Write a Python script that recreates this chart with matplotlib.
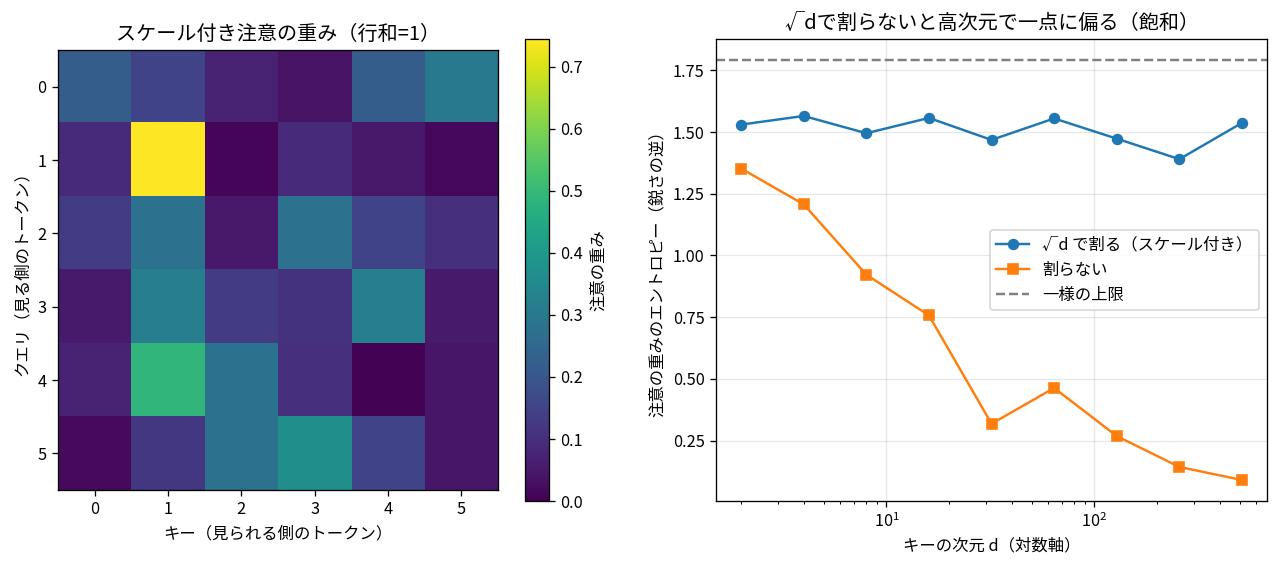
import numpy as np
import matplotlib.pyplot as plt

plt.rcParams['font.family'] = ['Noto Sans CJK JP', 'DejaVu Sans']

# attention weights (rows = queries, each row sums to ~1)
row0 = [0.22, 0.15, 0.075, 0.04, 0.22, 0.30]
row1 = [0.09, 0.745, 0.01, 0.09, 0.05, 0.015]
row2 = [0.13, 0.28, 0.05, 0.28, 0.15, 0.10]
row3 = [0.055, 0.32, 0.13, 0.11, 0.32, 0.055]
row4 = [0.07, 0.49, 0.28, 0.10, 0.005, 0.045]
row5 = [0.02, 0.12, 0.28, 0.37, 0.15, 0.045]
weights = np.array([row0, row1, row2, row3, row4, row5])

# entropy vs key dimension
dims = [2, 4, 8, 16, 32, 64, 128, 256, 512]
ent_scaled = [1.53, 1.565, 1.495, 1.557, 1.468, 1.555, 1.473, 1.39, 1.537]
ent_unscaled = [1.352, 1.207, 0.922, 0.757, 0.318, 0.463, 0.268, 0.143, 0.09]
upper = np.log(6)

dpi = 117.5
fig = plt.figure(figsize=(1278 / dpi, 566 / dpi), dpi=dpi)

# left: heatmap
ax1 = fig.add_axes([0.0454, 0.1148, 0.3443, 0.8163])
im = ax1.imshow(weights, cmap='viridis', vmin=0)
ax1.set_xticks(range(6))
ax1.set_yticks(range(6))
ax1.set_title('スケール付き注意の重み（行和=1）', fontsize=12.3)
ax1.set_xlabel('キー（見られる側のトークン）')
ax1.set_ylabel('クエリ（見る側のトークン）')
cax = fig.add_axes([0.4108, 0.1148, 0.0188, 0.8163])
fig.colorbar(im, cax=cax, label='注意の重み')

# right: entropy line plot
ax2 = fig.add_axes([0.5603, 0.1148, 0.4311, 0.8163])
ax2.plot(dims, ent_scaled, marker='o', color='#1f77b4', label='√d で割る（スケール付き）')
ax2.plot(dims, ent_unscaled, marker='s', color='#ff7f0e', label='割らない')
ax2.axhline(upper, color='gray', linestyle='--', label='一様の上限')
ax2.set_xscale('log')
ax2.set_title('√dで割らないと高次元で一点に偏る（飽和）', fontsize=12.3)
ax2.set_xlabel('キーの次元 d（対数軸）')
ax2.set_ylabel('注意の重みのエントロピー（鋭さの逆）')
ax2.grid(alpha=0.3)
ax2.legend(loc='center right')

plt.savefig('out.png', dpi=dpi)
plt.close()
